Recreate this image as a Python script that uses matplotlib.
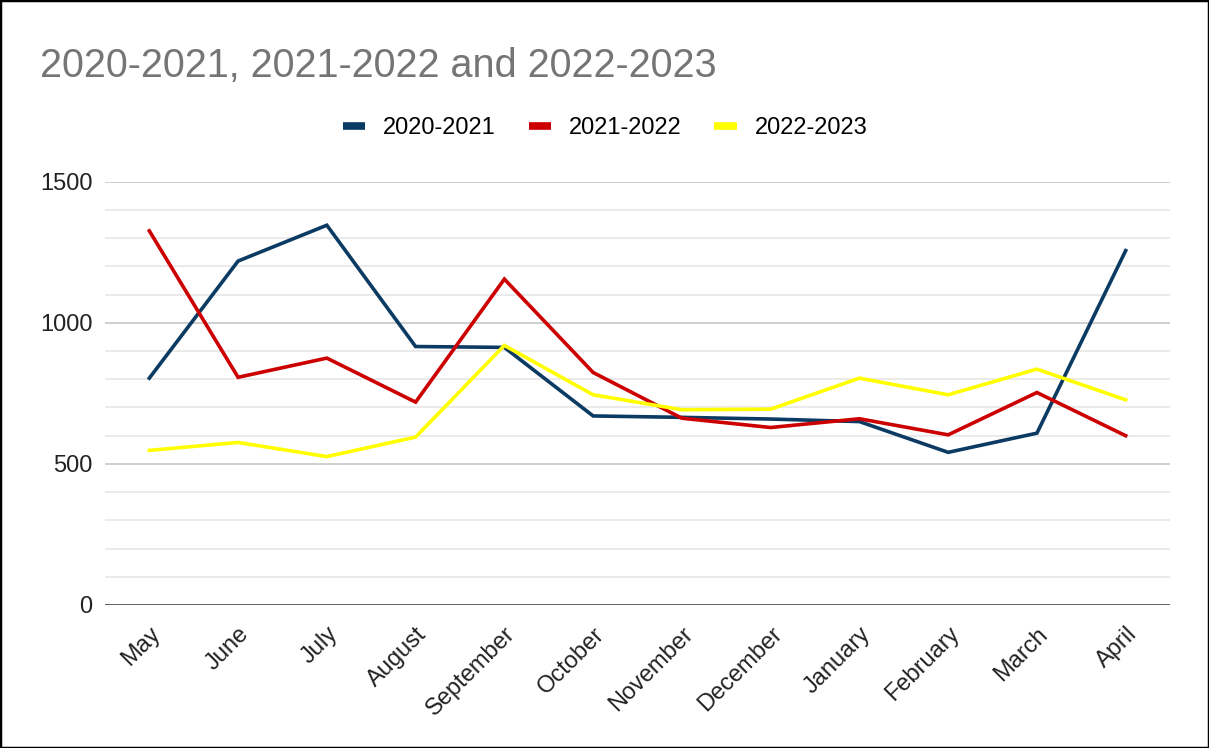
import matplotlib.pyplot as plt
import matplotlib.transforms as mtransforms
import numpy as np
from matplotlib.lines import Line2D

plt.rcParams['font.family'] = ['Liberation Sans', 'DejaVu Sans']

months = ['May', 'June', 'July', 'August', 'September', 'October',
          'November', 'December', 'January', 'February', 'March', 'April']
series_names = ['2020-2021', '2021-2022', '2022-2023']
values_2020_2021 = [804, 1219, 1346, 916, 913, 670, 665, 659, 650, 541, 609, 1256]
values_2021_2022 = [1326, 807, 875, 719, 1155, 824, 662, 629, 660, 603, 753, 600]
values_2022_2023 = [548, 576, 526, 595, 920, 745, 692, 694, 804, 745, 836, 727]
colors = ['#0b3a62', '#cc0000', '#ffff00']

fig = plt.figure(figsize=(12.09, 7.48), dpi=100)
ax = fig.add_axes([0.0868, 0.1912, 0.8810, 0.5658])

x = np.arange(len(months))
for vals, name, c in zip([values_2020_2021, values_2021_2022, values_2022_2023],
                         series_names, colors):
    ax.plot(x, vals, color=c, lw=2.6, label=name, zorder=3,
            solid_joinstyle='miter')

ax.set_xlim(-0.5, len(months) - 0.5)
ax.set_ylim(0, 1500)

# minor grid every 100, major every 500
for v in range(100, 1500, 100):
    if v % 500:
        ax.axhline(v, color='#e8e8e8', lw=1.3, zorder=1)
for v in [500, 1000, 1500]:
    ax.axhline(v, color='#cccccc', lw=1.3, zorder=1)
ax.axhline(0, color='#333333', lw=1.8, zorder=4)

ax.set_yticks([0, 500, 1000, 1500])
ax.set_yticklabels(['0', '500', '1000', '1500'], fontsize=17, color='#222222')
ax.set_xticks(x)
ax.set_xticklabels(months, rotation=45, ha='right', va='top', rotation_mode='anchor',
                   fontsize=17, color='#222222')
shift = mtransforms.ScaledTranslation(0.10, 0, fig.dpi_scale_trans)
for lbl in ax.get_xticklabels():
    lbl.set_transform(lbl.get_transform() + shift)
ax.tick_params(axis='both', length=0)
ax.tick_params(axis='y', pad=9)
ax.tick_params(axis='x', pad=13)
for s in ax.spines.values():
    s.set_visible(False)

fig.text(40 / 1209, 1 - 66 / 748, '2020-2021, 2021-2022 and 2022-2023',
         fontsize=28.5, color='#757575', va='center', ha='left')

handles = [Line2D([0], [0], color=c, lw=5.5, solid_capstyle='butt') for c in colors]
fig.legend(handles, series_names, loc='center', bbox_to_anchor=(605 / 1209, 1 - 128 / 748),
           ncol=3, frameon=False, fontsize=17, handlelength=0.95, handletextpad=0.75,
           columnspacing=1.4)

# outer frame
fig.patches.append(plt.Rectangle((0, 0), 1, 1, transform=fig.transFigure,
                                 fill=False, edgecolor='black', lw=2.5))

fig.savefig('out.png', dpi=100)
